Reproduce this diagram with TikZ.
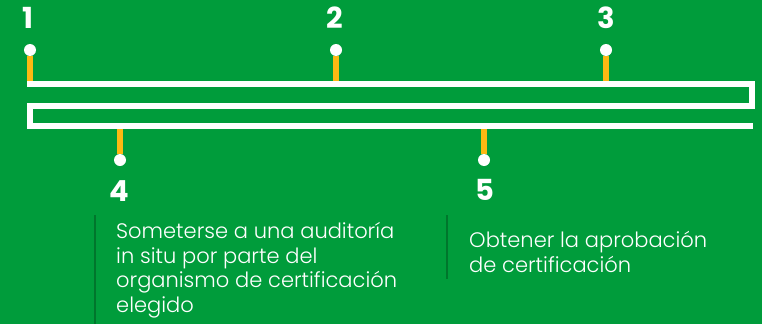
\documentclass[tikz,border=0pt]{standalone}
\usepackage{fontspec}
\setmainfont{Poppins}
\newfontfamily\lightfont{Poppins Light}
\definecolor{bggreen}{HTML}{009C3B}
\definecolor{stemorange}{HTML}{FDB913}
\definecolor{rulegreen}{HTML}{00762C}

\begin{document}
\begin{tikzpicture}[x=1pt,y=-1pt,
    track/.style={draw=white,line width=6pt},
    stem/.style={draw=stemorange,line width=6pt},
    dot/.style={circle,fill=white,inner sep=0pt,minimum size=12pt},
    num/.style={text=white,inner sep=0pt,font=\bfseries\fontsize{29}{30}\selectfont},
    desc/.style={text=white,inner sep=0pt,anchor=base west,align=left,
      font=\lightfont\fontsize{21}{24.5}\selectfont},
    sidebar/.style={draw=rulegreen,line width=2pt}]
      \fill[bggreen] (0,0) rectangle (762,324);
      \useasboundingbox (0,0) rectangle (762,324);

      % the folded track
      \coordinate (start) at (27,84);
      \coordinate (turn1) at (752,84);
      \coordinate (turn2) at (752,106);
      \coordinate (turn3) at (30,106);
      \coordinate (turn4) at (30,126);
      \coordinate (finish) at (753,126);
      \draw[track,line join=miter] (start) -- (turn1) -- (turn2) -- (turn3) -- (turn4) -- (finish);

      \node[dot] (d1) at (30,50) {};
      \node[dot] (d2) at (336,50) {};
      \node[dot] (d3) at (606,50) {};
      \node[dot] (d4) at (120,160) {};
      \node[dot] (d5) at (484,160) {};

      \coordinate (top) at (0,81);
      \coordinate (bottom) at (0,129);
      \draw[stem] (d1) -- (d1 |- top);
      \draw[stem] (d2) -- (d2 |- top);
      \draw[stem] (d3) -- (d3 |- top);
      \draw[stem] (d4) -- (d4 |- bottom);
      \draw[stem] (d5) -- (d5 |- bottom);

      \node[num] (n1) at (28,18) {1};
      \node[num] (n2) at (335,18) {2};
      \node[num] (n3) at (606,18) {3};
      \node[num] (n4) at (119,191) {4};
      \node[num] (n5) at (485,190) {5};

      % base sits on the last line of each block
      \node[desc] (t4) at (116,312) {Someterse a una auditoría\\in situ por parte del\\organismo de certificación\\elegido};
      \node[desc] (t5) at (469,272) {Obtener la aprobación\\de certificación};

      \draw[sidebar] (95,215) -- (95,324);
      \draw[sidebar] (447,215) -- (447,279);
    \end{tikzpicture}
\end{document}
